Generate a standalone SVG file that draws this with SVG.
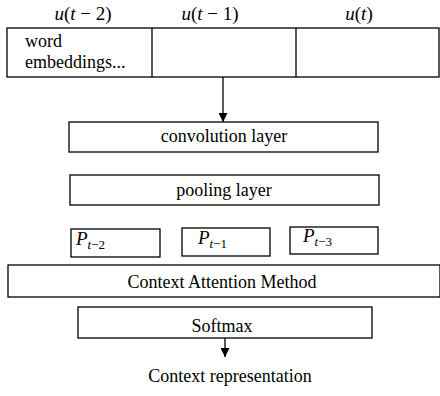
<svg xmlns="http://www.w3.org/2000/svg" width="440" height="396" viewBox="0 0 440 396">
<defs>
<style>
rect{fill:#fff;stroke:#000;stroke-width:1.3}
text{font-family:"Liberation Serif","Times New Roman",serif;font-size:18px;fill:#000}
.c{text-anchor:middle}
.i{font-style:italic}
.m{font-size:19px}
.s{font-size:13px}
line{stroke:#000;stroke-width:1.3}
</style>
<marker id="ah" viewBox="0 0 10 10" refX="10" refY="5" markerWidth="9" markerHeight="9" markerUnits="userSpaceOnUse" orient="auto">
<path d="M0,0 L10,5 L0,10 z" fill="#000"/>
</marker>
</defs>
<g id="labels">
<text x="83" y="20" class="c m"><tspan class="i">u</tspan>(<tspan class="i">t</tspan> − 2)</text>
<text x="210" y="20" class="c m"><tspan class="i">u</tspan>(<tspan class="i">t</tspan> − 1)</text>
<text x="359" y="20" class="c m"><tspan class="i">u</tspan>(<tspan class="i">t</tspan>)</text>
</g>
<g id="embeddings">
<rect x="7" y="28" width="432" height="49"/>
<line x1="152" y1="28" x2="152" y2="77"/>
<line x1="296" y1="28" x2="296" y2="77"/>
<text x="25" y="47">word</text>
<text x="25" y="68">embeddings...</text>
</g>
<g id="conv">
<rect x="69" y="122" width="309" height="30"/>
<text x="224" y="142" class="c">convolution layer</text>
</g>
<g id="pool">
<rect x="70" y="175" width="309" height="30"/>
<text x="224" y="196" class="c">pooling layer</text>
</g>
<g id="p1">
<rect x="71" y="229" width="89" height="28"/>
<text x="76" y="245" class="m"><tspan class="i">P</tspan><tspan class="s" dy="4"><tspan class="i">t</tspan>−2</tspan></text>
</g>
<g id="p2">
<rect x="182" y="228" width="88" height="28"/>
<text x="198" y="244" class="m"><tspan class="i">P</tspan><tspan class="s" dy="4"><tspan class="i">t</tspan>−1</tspan></text>
</g>
<g id="p3">
<rect x="290" y="227" width="88" height="27"/>
<text x="303" y="242" class="m"><tspan class="i">P</tspan><tspan class="s" dy="4"><tspan class="i">t</tspan>−3</tspan></text>
</g>
<g id="attention">
<rect x="8" y="265" width="432" height="32"/>
<text x="222" y="288" class="c">Context Attention Method</text>
</g>
<g id="softmax">
<rect x="78" y="307" width="294" height="31"/>
<text x="222" y="332" class="c">Softmax</text>
</g>
<g id="output">
<text x="230" y="382" class="c">Context representation</text>
</g>
<g id="connectors">
<line x1="223" y1="77" x2="223" y2="122" marker-end="url(#ah)"/>
<line x1="225" y1="338" x2="225" y2="357" marker-end="url(#ah)"/>
</g>
</svg>
